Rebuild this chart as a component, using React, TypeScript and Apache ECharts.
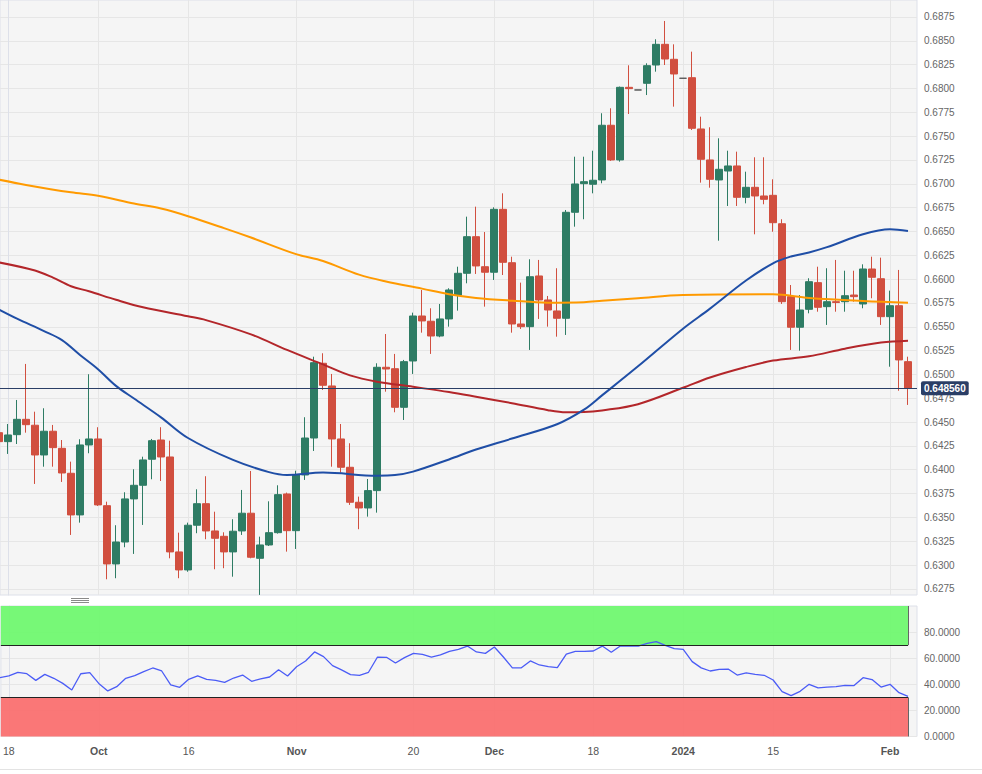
import React, { useEffect, useRef } from "react";
import * as echarts from "echarts";

// Candles: index -1 = 15 Sep 2023 ... index 100 = 05 Feb 2024 (trading days)
const FIRST_INDEX = -1;
const opens = [
  0.64389, 0.64295, 0.64368, 0.64529, 0.64467, 0.64155, 0.64404, 0.64225, 0.63963, 0.63526,
  0.6426, 0.64323, 0.63623, 0.63012, 0.63242, 0.63694, 0.63837, 0.6411, 0.64312, 0.64134,
  0.63138, 0.62949, 0.63418, 0.63644, 0.63358, 0.63302, 0.63138, 0.63358, 0.63544, 0.63071,
  0.63211, 0.6334, 0.63746, 0.63361, 0.63945, 0.64333, 0.65117, 0.64879, 0.64323, 0.64026,
  0.63659, 0.63599, 0.63781, 0.65075, 0.6506, 0.64655, 0.65141, 0.65613, 0.65558, 0.65403,
  0.65582, 0.65833, 0.66061, 0.66445, 0.6613, 0.66072, 0.66732, 0.66172, 0.65529, 0.65501,
  0.66033, 0.65781, 0.65666, 0.65589, 0.66701, 0.67001, 0.66995, 0.6704, 0.67614, 0.6725,
  0.68012, 0.67984, 0.68054, 0.68246, 0.68463, 0.68306, 0.68107, 0.68113, 0.67575, 0.6725,
  0.6704, 0.67134, 0.67187, 0.66858, 0.66963, 0.66872, 0.66879, 0.66581, 0.65816, 0.65495,
  0.65683, 0.65963, 0.65711, 0.65763, 0.65763, 0.65833, 0.65739, 0.66106, 0.66004, 0.65606,
  0.65721, 0.65134,
];
const closes = [
  0.64295, 0.64365, 0.64529, 0.64473, 0.64155, 0.64404, 0.64232, 0.63966, 0.63526, 0.6426,
  0.64323, 0.63631, 0.63012, 0.63242, 0.63694, 0.63837, 0.64103, 0.64305, 0.64134, 0.63138,
  0.62949, 0.63418, 0.63644, 0.63358, 0.63281, 0.63138, 0.63355, 0.63544, 0.63082, 0.63211,
  0.6334, 0.63739, 0.63361, 0.63945, 0.64333, 0.65123, 0.64886, 0.64323, 0.64026, 0.63659,
  0.63599, 0.63781, 0.65075, 0.65057, 0.64655, 0.65134, 0.65613, 0.65561, 0.65403, 0.65582,
  0.65886, 0.66061, 0.66445, 0.66138, 0.66072, 0.66732, 0.66176, 0.65529, 0.65501, 0.66025,
  0.65781, 0.65676, 0.65589, 0.66701, 0.66998, 0.67022, 0.67037, 0.67614, 0.6725, 0.68012,
  0.67998, 0.67984, 0.68239, 0.68463, 0.68309, 0.68152, 0.68107, 0.67582, 0.67257, 0.67047,
  0.67152, 0.67187, 0.66858, 0.66963, 0.66872, 0.66837, 0.66592, 0.65763, 0.65495, 0.65676,
  0.65973, 0.65704, 0.65763, 0.65755, 0.65826, 0.65816, 0.66106, 0.66019, 0.65606, 0.65721,
  0.65152, 0.64856,
];
const lows = [
  0.64249, 0.64166, 0.6427, 0.64389, 0.63851, 0.64032, 0.64032, 0.63872, 0.63316, 0.63445,
  0.64173, 0.6362, 0.62851, 0.62862, 0.63187, 0.63117, 0.63421, 0.639, 0.63882, 0.63071,
  0.62862, 0.6293, 0.63334, 0.63271, 0.62956, 0.62967, 0.62878, 0.63316, 0.63071, 0.62687,
  0.632, 0.6333, 0.63141, 0.63169, 0.63893, 0.64197, 0.64837, 0.64032, 0.63969, 0.63631,
  0.63376, 0.63508, 0.6355, 0.64819, 0.64603, 0.64522, 0.65005, 0.65438, 0.65215, 0.6539,
  0.65501, 0.65669, 0.65956, 0.66054, 0.65711, 0.65991, 0.66043, 0.65438, 0.65477, 0.65257,
  0.65582, 0.65501, 0.65396, 0.65414, 0.6655, 0.66628, 0.669, 0.67005, 0.6724, 0.67232,
  0.67732, 0.67984, 0.67931, 0.68176, 0.68246, 0.67809, 0.68107, 0.67564, 0.67012, 0.66959,
  0.66403, 0.66767, 0.66767, 0.66795, 0.6647, 0.66785, 0.66497, 0.65739, 0.65257, 0.65249,
  0.65641, 0.65658, 0.65519, 0.65658, 0.65658, 0.65763, 0.65694, 0.65799, 0.65519, 0.65081,
  0.64829, 0.6468,
];
const highs = [
  0.64438, 0.6448, 0.64732, 0.6511, 0.64609, 0.64645, 0.6447, 0.64312, 0.64085, 0.6432,
  0.65002, 0.64446, 0.63665, 0.63418, 0.63764, 0.64005, 0.64137, 0.64323, 0.64446, 0.64305,
  0.6334, 0.63445, 0.63795, 0.63932, 0.6356, 0.63344, 0.63481, 0.63788, 0.63987, 0.63298,
  0.63669, 0.63837, 0.6376, 0.6399, 0.64551, 0.65186, 0.65222, 0.65005, 0.6448, 0.64278,
  0.63718, 0.63903, 0.65117, 0.65424, 0.65215, 0.65152, 0.65648, 0.65886, 0.65694, 0.65739,
  0.65904, 0.6613, 0.66655, 0.6676, 0.66494, 0.66753, 0.669, 0.66235, 0.65963, 0.66208,
  0.66201, 0.65823, 0.66114, 0.66725, 0.67284, 0.67284, 0.67347, 0.6774, 0.67792, 0.6802,
  0.68243, 0.67984, 0.68264, 0.68516, 0.68708, 0.68463, 0.68107, 0.68386, 0.67704, 0.67593,
  0.67477, 0.67347, 0.67337, 0.67127, 0.67278, 0.67278, 0.67047, 0.66628, 0.65938, 0.65833,
  0.66009, 0.6613, 0.66114, 0.66201, 0.66088, 0.66088, 0.66155, 0.66235, 0.66225, 0.65879,
  0.66096, 0.65186,
];
const rsiValues = [
  45.1, 46.4, 49.2, 48.1, 43.0, 47.6, 44.6, 40.7, 35.6, 48.1,
  48.9, 40.7, 34.9, 38.2, 44.6, 46.6, 49.7, 52.5, 50.2, 39.5,
  37.7, 43.8, 46.4, 43.8, 43.0, 41.5, 44.8, 47.1, 42.3, 44.1,
  45.6, 51.2, 46.4, 53.5, 57.9, 64.8, 61.2, 54.3, 51.0, 47.4,
  46.9, 49.2, 60.9, 60.7, 56.3, 60.4, 63.7, 62.9, 60.9, 62.5,
  65.3, 66.8, 69.3, 64.8, 63.7, 68.6, 60.9, 52.6, 52.6, 57.9,
  54.8, 53.5, 52.7, 63.2, 65.2, 65.2, 65.5, 69.3, 64.5, 69.3,
  69.3, 69.3, 71.4, 72.7, 69.9, 67.3, 66.8, 57.4, 52.6, 50.2,
  51.5, 51.7, 47.1, 48.7, 47.6, 46.9, 43.3, 34.4, 31.3, 34.6,
  40.0, 37.2, 37.9, 38.2, 39.2, 39.0, 45.1, 43.6, 37.9, 40.0,
  33.6, 30.8,
];

// Moving averages, read at selected candle indices
const smaBlueIdx = [-1, 1, 4, 6, 8, 10, 12, 14, 17, 20, 25, 29, 31, 35, 41, 43, 45, 49, 52, 56, 61, 64, 66, 70, 75, 78, 82, 85, 87, 89, 91, 95, 98, 100];
const smaBlue = [0.6568, 0.65585, 0.65455, 0.6536, 0.65204, 0.65055, 0.6488, 0.64747, 0.6455, 0.64333, 0.64103, 0.63975, 0.63945, 0.6397, 0.63938, 0.63944, 0.6398, 0.64108, 0.64212, 0.64327, 0.64477, 0.6463, 0.6478, 0.65085, 0.6548, 0.6569, 0.65985, 0.66166, 0.66237, 0.6628, 0.66335, 0.6647, 0.66522, 0.66505];
const smaRedIdx = [-1, 3, 5, 7, 9, 12, 15, 20, 22, 27, 31, 35, 38, 41, 45, 49, 52, 56, 60, 62, 64, 66, 70, 75, 78, 82, 85, 89, 93, 97, 100];
const smaRed = [0.66175, 0.6609, 0.66015, 0.65925, 0.65872, 0.65783, 0.65704, 0.6561, 0.6557, 0.6542, 0.65257, 0.65105, 0.6499, 0.64924, 0.6487, 0.64815, 0.64766, 0.64698, 0.64625, 0.64603, 0.64605, 0.64622, 0.64688, 0.6486, 0.64968, 0.65078, 0.65145, 0.6519, 0.6527, 0.65334, 0.65354];
const smaOrangeIdx = [-1, 2, 7, 10, 14, 17, 20, 24, 27, 32, 35, 39, 42, 46, 49, 52, 56, 60, 64, 66, 70, 75, 85, 89, 95, 100];
const smaOrange = [0.67043, 0.66988, 0.6691, 0.66875, 0.66793, 0.6674, 0.6666, 0.66535, 0.66436, 0.66262, 0.6619, 0.66047, 0.65975, 0.659, 0.65842, 0.65803, 0.65774, 0.65753, 0.65758, 0.65772, 0.658, 0.65834, 0.65841, 0.65803, 0.65771, 0.65753];

const xTickIdx = [0, 10, 20, 32, 45, 54, 65, 75, 85, 98];
const xTickLabels = ["18", "Oct", "16", "Nov", "20", "Dec", "18", "2024", "15", "Feb"];
const boldLabels = ["Oct", "Nov", "Dec", "2024", "Feb"];
const priceTicks = [
  0.6275, 0.63, 0.6325, 0.635, 0.6375, 0.64, 0.6425, 0.645, 0.6475, 0.65, 0.6525, 0.655, 0.6575,
  0.66, 0.6625, 0.665, 0.6675, 0.67, 0.6725, 0.675, 0.6775, 0.68, 0.6825, 0.685, 0.6875,
];
const rsiTicks = [0, 20, 40, 60, 80];
const lastPrice = 0.64856;
const lastPriceLabel = "0.648560";
const overbought = 70;
const oversold = 30;

const FONT = "'Liberation Sans', Arial, Helvetica, sans-serif";
const X_MIN = -0.8889;
const X_MAX = 101;
const GRID_LINE = "#e6e6e6";
const BORDER = "#dde0e9";

export default function App() {
  const ref = useRef<HTMLDivElement>(null);

  useEffect(() => {
    if (!ref.current) return;
    const chart = echarts.init(ref.current, undefined, { renderer: "svg" });

    const candleData = opens.map((o, k) => [k + FIRST_INDEX, o, closes[k], lows[k], highs[k]]);
    const rsiData = rsiValues.map((v, k) => [k + FIRST_INDEX, v]);
    const pair = (idx: number[], vals: number[]) => idx.map((i, k) => [i, vals[k]]);
    const lastIdx = opens.length - 1 + FIRST_INDEX;

    const xLabelFormatter = (v: number) => {
      const k = xTickIdx.indexOf(Math.round(v));
      if (k < 0) return "";
      const t = xTickLabels[k];
      return boldLabels.includes(t) ? `{b|${t}}` : `{n|${t}}`;
    };

    const lineSeries = (idx: number[], vals: number[], color: string, extra: any = {}) => ({
      type: "line",
      xAxisIndex: 0,
      yAxisIndex: 0,
      data: pair(idx, vals),
      showSymbol: false,
      smooth: 0.35,
      lineStyle: { color, width: 2 },
      itemStyle: { color },
      silent: true,
      z: 3,
      ...extra,
    });

    const option: any = {
      animation: false,
      backgroundColor: "#ffffff",
      textStyle: { fontFamily: FONT },
      grid: [
        {
          left: 0, right: 65, top: 0, height: 595,
          show: true, backgroundColor: "#f5f5f5", borderColor: BORDER, borderWidth: 1,
        },
        {
          left: 0, right: 65, top: 606, height: 130.5,
          show: true, backgroundColor: "#f5f5f5", borderColor: BORDER, borderWidth: 1,
        },
      ],
      xAxis: [
        {
          type: "value", gridIndex: 0, min: X_MIN, max: X_MAX,
          axisLine: { show: false },
          axisTick: { show: false, customValues: xTickIdx },
          axisLabel: { show: false, customValues: xTickIdx },
          splitLine: { show: true, lineStyle: { color: GRID_LINE, width: 1 } },
        },
        {
          type: "value", gridIndex: 1, min: X_MIN, max: X_MAX,
          axisLine: { show: false },
          axisTick: { show: false, customValues: xTickIdx },
          axisLabel: {
            show: true, customValues: xTickIdx, formatter: xLabelFormatter, margin: 9,
            rich: {
              b: { fontWeight: "bold", fontSize: 10.5, color: "#555", fontFamily: FONT },
              n: { fontSize: 10.5, color: "#555", fontFamily: FONT },
            },
          },
          splitLine: { show: true, lineStyle: { color: GRID_LINE, width: 1 } },
        },
      ],
      yAxis: [
        {
          type: "value", gridIndex: 0, position: "right", min: 0.62686, max: 0.68928,
          axisLine: { show: true, lineStyle: { color: BORDER } },
          axisTick: { show: false, customValues: priceTicks },
          axisLabel: {
            customValues: priceTicks, formatter: (v: number) => v.toFixed(4),
            color: "#666", fontSize: 10, margin: 7, fontFamily: FONT,
          },
          splitLine: { show: true, lineStyle: { color: GRID_LINE, width: 1 } },
        },
        {
          type: "value", gridIndex: 1, position: "right", min: 0, max: 100,
          axisLine: { show: true, lineStyle: { color: BORDER } },
          axisTick: { show: false, customValues: rsiTicks },
          axisLabel: {
            customValues: rsiTicks, formatter: (v: number) => v.toFixed(4),
            color: "#666", fontSize: 10, margin: 7, fontFamily: FONT,
          },
          splitLine: { show: true, lineStyle: { color: GRID_LINE, width: 1 } },
        },
      ],
      series: [
        {
          type: "candlestick",
          xAxisIndex: 0,
          yAxisIndex: 0,
          data: candleData,
          barWidth: 6.6,
          z: 2,
          itemStyle: {
            color: "#2e7c64",
            color0: "#d14f3f",
            borderColor: "#2e7c64",
            borderColor0: "#d14f3f",
            borderColorDoji: "#555555",
            borderWidth: 1,
          },
        },
        lineSeries(smaOrangeIdx, smaOrange, "#ff9a00"),
        lineSeries(smaRedIdx, smaRed, "#b3262a"),
        lineSeries(smaBlueIdx, smaBlue, "#1f4ea6", {
          markLine: {
            silent: true,
            symbol: ["none", "none"],
            data: [[{ coord: [X_MIN, lastPrice] }, { coord: [X_MAX, lastPrice] }]],
            lineStyle: { color: "#2a3e66", width: 1, type: "solid" },
            label: {
              show: true, position: "end", distance: 4, formatter: lastPriceLabel,
              backgroundColor: "#2a3e66", color: "#ffffff", fontWeight: "bold",
              fontSize: 10, padding: [2, 3, 2, 3], borderRadius: 2, fontFamily: FONT,
            },
            z: 5,
          },
        }),
        {
          type: "line",
          xAxisIndex: 1,
          yAxisIndex: 1,
          data: rsiData,
          showSymbol: false,
          lineStyle: { color: "#4b5cf6", width: 1.3 },
          itemStyle: { color: "#4b5cf6" },
          silent: true,
          z: 4,
          markArea: {
            silent: true,
            data: [
              [
                { xAxis: X_MIN, yAxis: overbought, itemStyle: { color: "#70f870", opacity: 0.95 } },
                { xAxis: lastIdx, yAxis: 100 },
              ],
              [
                { xAxis: X_MIN, yAxis: 0, itemStyle: { color: "#fa7070", opacity: 0.95 } },
                { xAxis: lastIdx, yAxis: oversold },
              ],
            ],
          },
          markLine: {
            silent: true,
            symbol: ["none", "none"],
            label: { show: false },
            lineStyle: { color: "#222222", width: 1, type: "solid" },
            data: [
              [{ coord: [X_MIN, overbought] }, { coord: [lastIdx, overbought] }],
              [{ coord: [X_MIN, oversold] }, { coord: [lastIdx, oversold] }],
              [{ coord: [lastIdx, overbought] }, { coord: [lastIdx, 100], lineStyle: { color: "#666" } }],
              [{ coord: [lastIdx, 0] }, { coord: [lastIdx, oversold], lineStyle: { color: "#666" } }],
            ],
          },
        },
      ],
      graphic: [
        { type: "rect", shape: { x: 71, y: 598, width: 18, height: 1 }, style: { fill: "#8a8a8a" }, silent: true },
        { type: "rect", shape: { x: 71, y: 600, width: 18, height: 1 }, style: { fill: "#8a8a8a" }, silent: true },
        { type: "rect", shape: { x: 71, y: 602, width: 18, height: 1 }, style: { fill: "#8a8a8a" }, silent: true },
        { type: "line", shape: { x1: 0, y1: 769.5, x2: 982, y2: 769.5 }, style: { stroke: "#e3e3e3", lineWidth: 1 }, silent: true },
      ],
    };

    chart.setOption(option);
    return () => chart.dispose();
  }, []);

  return (
    <div
      ref={ref}
      style={{ position: "fixed", left: 0, top: 0, width: 982, height: 774, background: "#fff" }}
    />
  );
}
